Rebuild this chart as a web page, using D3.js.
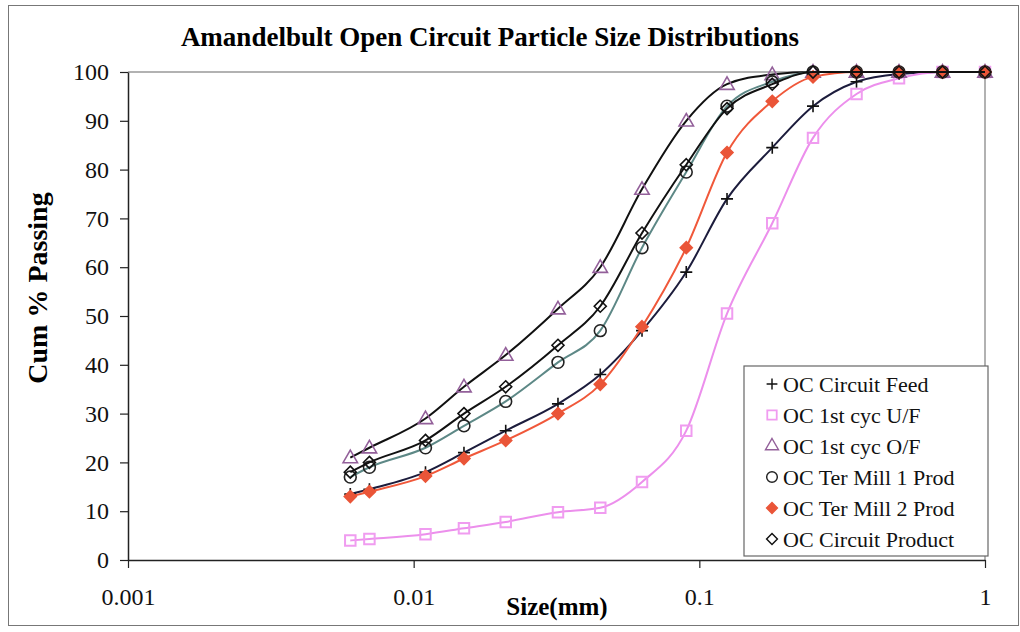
<!DOCTYPE html>
<html>
<head>
<meta charset="utf-8">
<script src="https://cdn.jsdelivr.net/npm/d3@7"></script>
<style>
  body { margin: 0; background: #fff; }
</style>
</head>
<body>
<div id="chart"></div>
<script>
// Sieve sizes (mm)
const sizes = [0.006, 0.007, 0.011, 0.015, 0.021, 0.032, 0.045, 0.063, 0.09, 0.125, 0.18, 0.25, 0.355, 0.5, 0.71, 1.0];

// Cumulative % passing per stream
const circuitFeed = [13.5, 14.5, 18, 22, 26.5, 32, 38, 47, 59, 74, 84.5, 93, 98, 99.6, 100, 100];
const cycUF = [4, 4.3, 5.3, 6.5, 7.8, 9.8, 10.7, 16, 26.5, 50.5, 69, 86.5, 95.5, 98.7, 100, 100];
const cycOF = [21, 23, 29, 35.5, 42, 51.5, 60, 76, 90, 97.5, 99.5, 100, 100, 100, 100, 100];
const terMill1 = [17, 19, 23, 27.5, 32.5, 40.5, 47, 64, 79.5, 93, 98, 100, 100, 100, 100, 100];
const terMill2 = [13, 14, 17.2, 20.8, 24.5, 30, 36, 47.8, 64, 83.5, 94, 99, 100, 100, 100, 100];
const circuitProduct = [18, 20, 24.5, 30, 35.5, 44, 52, 67, 81, 92.5, 97.5, 100, 100, 100, 100, 100];

const seriesNames = ["OC Circuit Feed", "OC 1st cyc U/F", "OC 1st cyc O/F", "OC Ter Mill 1 Prod", "OC Ter Mill 2 Prod", "OC Circuit Product"];
const seriesValues = [circuitFeed, cycUF, cycOF, terMill1, terMill2, circuitProduct];

const xTicks = [0.001, 0.01, 0.1, 1];
const xTickLabels = ["0.001", "0.01", "0.1", "1"];
const yTicks = [0, 10, 20, 30, 40, 50, 60, 70, 80, 90, 100];

// Styles per series
const styles = [
  { line: "#1c1c3c", marker: "plus", stroke: "#111", fill: "none" },
  { line: "#ec8fec", marker: "square", stroke: "#f09cf0", fill: "none" },
  { line: "#111", marker: "triangle", stroke: "#93609a", fill: "none" },
  { line: "#5d8886", marker: "circle", stroke: "#222", fill: "none" },
  { line: "#f0583a", marker: "diamond", stroke: "#ea5538", fill: "#ea5538" },
  { line: "#111", marker: "diamond", stroke: "#111", fill: "none" },
];

const width = 1020;
const height = 632;
const marginLeft = 128;
const marginRight = 35;
const marginTop = 72;
const marginBottom = 72;
const serif = "'Liberation Serif', 'DejaVu Serif', serif";

const x = d3.scaleLog().domain([0.001, 1]).range([marginLeft, width - marginRight]);
const y = d3.scaleLinear().domain([0, 100]).range([height - marginBottom, marginTop]);

const svg = d3
  .select("#chart")
  .append("svg")
  .attr("width", width)
  .attr("height", height)
  .attr("viewBox", [0, 0, width, height]);

// Outer frame
svg
  .append("rect")
  .attr("x", 8.5)
  .attr("y", 5.5)
  .attr("width", width - 10)
  .attr("height", height - 12)
  .attr("fill", "none")
  .attr("stroke", "#777")
  .attr("stroke-width", 1);

// Plot area border (top and right, grey)
svg
  .append("path")
  .attr("d", `M${x(0.001)},${y(100)}H${x(1)}V${y(0)}`)
  .attr("fill", "none")
  .attr("stroke", "#999")
  .attr("stroke-width", 1.5);

// Title
svg
  .append("text")
  .attr("x", 490)
  .attr("y", 46)
  .attr("text-anchor", "middle")
  .attr("font-family", serif)
  .attr("font-weight", "700")
  .attr("font-size", "27px")
  .text("Amandelbult Open Circuit Particle Size Distributions");

// Y axis
svg
  .append("g")
  .attr("transform", `translate(${marginLeft},0)`)
  .call(d3.axisLeft(y).tickValues(yTicks).tickSize(8).tickPadding(11).tickSizeOuter(0))
  .call((g) => g.select(".domain").attr("stroke", "#222").attr("stroke-width", 1.5))
  .call((g) => g.selectAll(".tick line").attr("stroke", "#222").attr("stroke-width", 1.2))
  .call((g) =>
    g
      .selectAll(".tick text")
      .attr("fill", "#111")
      .attr("font-size", "24px")
      .attr("font-family", serif),
  );

// X axis
svg
  .append("g")
  .attr("transform", `translate(0,${y(0)})`)
  .call(
    d3
      .axisBottom(x)
      .tickValues(xTicks)
      .tickFormat((d, i) => xTickLabels[i])
      .tickSize(8)
      .tickPadding(20)
      .tickSizeOuter(0),
  )
  .call((g) => g.select(".domain").attr("stroke", "#222").attr("stroke-width", 1.5))
  .call((g) => g.selectAll(".tick line").attr("stroke", "#222").attr("stroke-width", 1.2))
  .call((g) =>
    g
      .selectAll(".tick text")
      .attr("fill", "#111")
      .attr("font-size", "24px")
      .attr("font-family", serif),
  );

// Axis titles
svg
  .append("text")
  .attr("transform", "translate(47,288) rotate(-90)")
  .attr("text-anchor", "middle")
  .attr("font-family", serif)
  .attr("font-weight", "700")
  .attr("font-size", "28px")
  .text("Cum % Passing");

svg
  .append("text")
  .attr("x", 557)
  .attr("y", 615)
  .attr("text-anchor", "middle")
  .attr("font-family", serif)
  .attr("font-weight", "700")
  .attr("font-size", "25px")
  .text("Size(mm)");

// Marker shapes
const symbolFor = {
  square: d3.symbol(d3.symbolSquare, 110),
  triangle: d3.symbol(d3.symbolTriangle, 90),
  circle: d3.symbol(d3.symbolCircle, 110),
};
const plusPath = "M-6,0H6M0,-6V6";
const diamondPath = "M0,-6L6,0L0,6L-6,0Z";

function drawMarker(sel, st) {
  if (st.marker === "plus") {
    sel.attr("d", plusPath).attr("fill", "none").attr("stroke", st.stroke).attr("stroke-width", 1.6);
  } else if (st.marker === "diamond") {
    sel.attr("d", diamondPath).attr("fill", st.fill).attr("stroke", st.stroke).attr("stroke-width", 1.6);
  } else {
    sel
      .attr("d", symbolFor[st.marker]())
      .attr("fill", st.fill)
      .attr("stroke", st.stroke)
      .attr("stroke-width", st.marker === "square" ? 2 : 1.6);
  }
}

const line = d3
  .line()
  .x((d) => x(d[0]))
  .y((d) => y(d[1]))
  .curve(d3.curveMonotoneX);

seriesValues.forEach((vals, i) => {
  const st = styles[i];
  const pts = sizes.map((s, j) => [s, vals[j]]);
  const g = svg.append("g");

  g.append("path")
    .datum(pts)
    .attr("d", line)
    .attr("fill", "none")
    .attr("stroke", st.line)
    .attr("stroke-width", 2);

  g.selectAll("path.m")
    .data(pts)
    .join("path")
    .attr("class", "m")
    .attr("transform", (d) => `translate(${x(d[0])},${y(d[1])})${st.marker === "triangle" ? " translate(0,1)" : ""}`)
    .call(drawMarker, st);
});

// Legend
const legend = svg.append("g").attr("transform", "translate(744,366)");
legend
  .append("rect")
  .attr("width", 244)
  .attr("height", 190)
  .attr("fill", "#fff")
  .attr("stroke", "#666")
  .attr("stroke-width", 1.2);

seriesNames.forEach((name, i) => {
  const st = styles[i];
  const row = legend.append("g").attr("transform", `translate(0,${18 + i * 31})`);
  row
    .append("path")
    .attr("transform", "translate(28,0) scale(0.9)")
    .call(drawMarker, st);
  row
    .append("text")
    .attr("x", 39)
    .attr("y", 0)
    .attr("dy", "0.35em")
    .attr("font-family", serif)
    .attr("font-size", "22px")
    .attr("fill", "#111")
    .text(name);
});
</script>
</body>
</html>
